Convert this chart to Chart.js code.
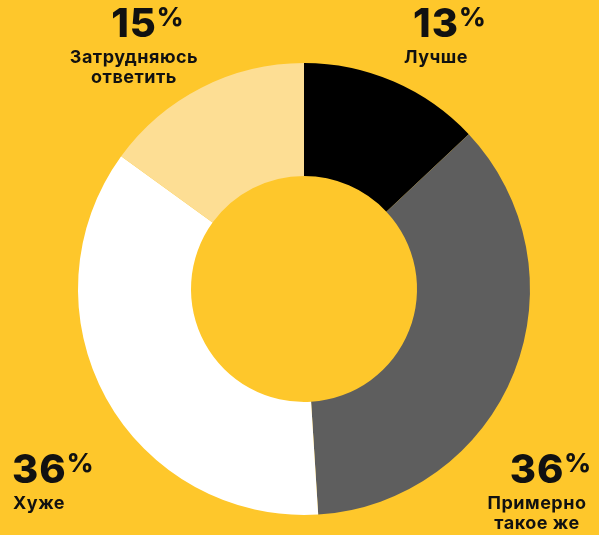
<!DOCTYPE html>
<html>
<head>
<meta charset="utf-8">
<script src="https://cdn.jsdelivr.net/npm/chart.js@4/dist/chart.umd.min.js"></script>
<style>
  html, body { margin: 0; padding: 0; background: #FEC72B; }
  #wrap { position: relative; width: 599px; height: 535px; }
</style>
</head>
<body>
<div id="wrap"><canvas id="donut"></canvas></div>
<script>
// Survey answers, clockwise from 12 o'clock
const categories = ['Лучше', 'Примерно такое же', 'Хуже', 'Затрудняюсь ответить'];
const shares = [13, 36, 36, 15];
const labelLines = [['Лучше'], ['Примерно', 'такое же'], ['Хуже'], ['Затрудняюсь', 'ответить']];
const sliceColors = ['#000000', '#5E5E5E', '#FFFFFF', '#FDDE94'];

// where each label block sits (x, y of the number baseline, alignment)
const LABEL_POS = [
    { x: 436, y: 37, align: 'center' },
    { x: 537, y: 483, align: 'center' },
    { x: 12, y: 483, align: 'left' },
    { x: 134, y: 37, align: 'center' }
];

const FONT = '"Inter", "Noto Sans", sans-serif';

const labelPlugin = {
    id: 'outerLabels',
    afterDraw(chart) {
        const ctx = chart.ctx;
        ctx.save();
        ctx.fillStyle = '#111111';
        ctx.textBaseline = 'alphabetic';
        shares.forEach((v, i) => {
            const p = LABEL_POS[i];
            const num = String(v);
            ctx.font = '800 40px ' + FONT;
            ctx.letterSpacing = '1px';
            const nw = ctx.measureText(num).width;
            const x0 = p.align === 'left' ? p.x : p.x - nw / 2;
            ctx.textAlign = 'left';
            ctx.fillText(num, x0, p.y);
            ctx.letterSpacing = '0px';
            // small raised percent sign
            ctx.font = '800 26px ' + FONT;
            ctx.fillText('%', x0 + nw, p.y - 11);

            ctx.font = '700 18px ' + FONT;
            ctx.letterSpacing = '0.5px';
            labelLines[i].forEach((line, j) => {
                const ly = p.y + 26 + j * 20;
                if (p.align === 'left') {
                    ctx.textAlign = 'left';
                    ctx.fillText(line, p.x + 1, ly);
                } else {
                    ctx.textAlign = 'center';
                    ctx.fillText(line, p.x, ly);
                }
            });
            ctx.letterSpacing = '0px';
        });
        ctx.restore();
    }
};

new Chart(document.getElementById('donut'), {
    type: 'doughnut',
    data: {
        labels: categories,
        datasets: [{
            data: shares,
            backgroundColor: sliceColors,
            borderWidth: 0,
            hoverOffset: 0,
            offset: 0
        }]
    },
    options: {
        responsive: true,
        maintainAspectRatio: false,
        animation: false,
        cutout: '50%',
        layout: { padding: { top: 63, bottom: 20, left: 78, right: 69 } },
        plugins: {
            legend: { display: false },
            tooltip: { enabled: false }
        }
    },
    plugins: [labelPlugin]
});
</script>
</body>
</html>
